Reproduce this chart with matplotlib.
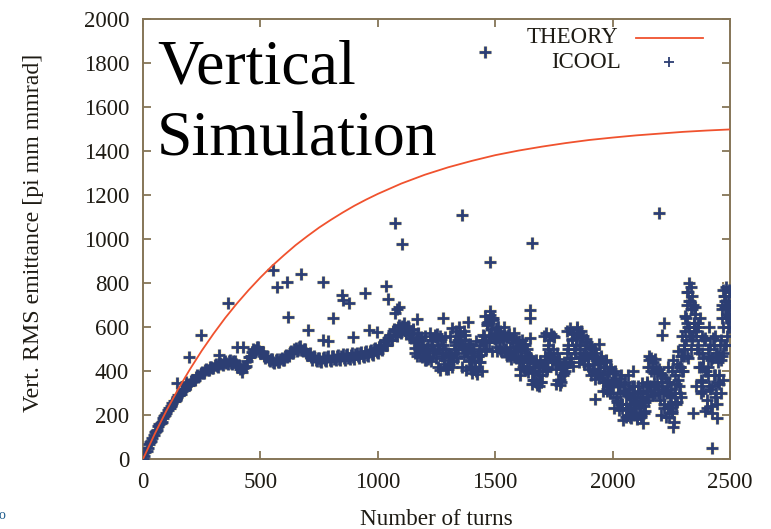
import matplotlib
matplotlib.use("Agg")
import matplotlib.pyplot as plt
from matplotlib.lines import Line2D

# ---------------- data ----------------
theory_turns = [0, 50, 100, 150, 200, 250, 300, 350, 400, 450, 500, 550, 600, 650,
                700, 750, 800, 850, 900, 950, 1000, 1100, 1200, 1300, 1400, 1500,
                1600, 1700, 1800, 1900, 2000, 2100, 2200, 2300, 2400, 2500]
theory_values = [0, 114, 220, 318, 408, 492, 569, 641, 707, 768, 825, 878, 926, 972,
                 1013, 1052, 1087, 1120, 1151, 1179, 1205, 1252, 1292, 1326, 1355, 1381,
                 1402, 1420, 1436, 1450, 1461, 1471, 1479, 1487, 1493, 1498]

# ICOOL samples on even decades (0, 10, ... 2500)
icool_turns_a = list(range(0, 2501, 10))
icool_values_a = [
    2, 30, 48, 78, 96, 122, 134, 158, 170, 196,
    208, 232, 242, 264, 270, 292, 296, 316, 320, 340,
    342, 360, 360, 380, 376, 394, 392, 410, 404, 420,
    412, 430, 420, 438, 428, 445, 432, 450, 434, 444,
    420, 426, 396, 420, 424, 462, 468, 500, 494, 508,
    482, 486, 458, 466, 444, 456, 438, 454, 440, 460,
    450, 474, 466, 492, 482, 506, 494, 512, 490, 500,
    472, 480, 452, 466, 444, 460, 442, 462, 444, 466,
    446, 470, 448, 474, 450, 476, 452, 478, 454, 480,
    456, 484, 460, 488, 464, 492, 466, 496, 472, 506,
    480, 520, 496, 540, 516, 565, 540, 590, 560, 608,
    572, 620, 570, 605, 550, 585, 505, 545, 470, 510,
    450, 505, 465, 540, 495, 570, 500, 545, 450, 480,
    410, 470, 445, 530, 500, 575, 520, 565, 480, 510,
    420, 465, 400, 490, 475, 565, 530, 625, 560, 630,
    545, 600, 500, 560, 485, 555, 480, 545, 465, 540,
    450, 500, 420, 480, 395, 455, 360, 420, 345, 430,
    380, 470, 420, 540, 460, 555, 410, 440, 350, 420,
    420, 520, 460, 575, 480, 590, 470, 560, 450, 530,
    410, 510, 400, 480, 370, 470, 350, 450, 330, 420,
    300, 400, 270, 370, 230, 340, 200, 320, 220, 330,
    210, 310, 190, 300, 260, 420, 310, 440, 300, 400,
    270, 380, 230, 350, 190, 320, 170, 340, 360, 470,
    400, 580, 460, 720, 540, 660, 500, 480, 350, 540,
    270, 470, 240, 520, 300, 440, 540, 360, 720, 600,
    760,
]

# ICOOL samples in between (5, 15, ... 2495)
icool_turns_b = list(range(5, 2500, 10))
icool_values_b = [
    14, 36, 66, 84, 110, 126, 150, 164, 188, 200,
    222, 234, 256, 264, 284, 290, 310, 314, 334, 338,
    354, 358, 374, 374, 390, 390, 404, 404, 416, 414,
    426, 422, 434, 430, 442, 436, 446, 438, 446, 430,
    426, 408, 412, 416, 444, 462, 488, 494, 508, 492,
    488, 470, 466, 450, 454, 440, 452, 442, 456, 450,
    468, 464, 486, 480, 500, 492, 510, 496, 502, 480,
    478, 462, 464, 450, 460, 446, 460, 448, 462, 452,
    466, 454, 468, 456, 470, 458, 472, 460, 474, 462,
    478, 466, 482, 468, 486, 472, 490, 478, 498, 486,
    510, 500, 530, 516, 552, 540, 580, 562, 600, 578,
    605, 585, 600, 565, 575, 530, 540, 495, 515, 470,
    500, 455, 520, 480, 555, 515, 560, 480, 500, 420,
    470, 420, 500, 480, 560, 520, 580, 500, 525, 450,
    480, 410, 470, 440, 540, 500, 610, 560, 640, 550,
    530, 575, 490, 550, 500, 565, 470, 530, 470, 510,
    520, 440, 470, 410, 470, 390, 440, 350, 400, 350,
    430, 400, 500, 470, 560, 440, 480, 360, 410, 390,
    480, 440, 540, 500, 550, 520, 580, 480, 530, 460,
    480, 430, 460, 390, 440, 380, 420, 360, 400, 350,
    360, 280, 330, 250, 310, 230, 290, 250, 300, 250,
    280, 230, 280, 240, 350, 330, 400, 340, 420, 320,
    350, 300, 310, 240, 290, 210, 300, 260, 420, 400,
    500, 620, 560, 680, 600, 560, 600, 420, 460, 400,
    420, 320, 460, 380, 480, 340, 470, 520, 640, 700,
]

# extra ICOOL samples in the noisy second half (1152, 1157, ... 2497)
icool_turns_c = list(range(1152, 2500, 5))
icool_values_c = [
    590, 480, 540, 470, 575, 500, 555, 465, 520, 495,
    560, 450, 520, 470, 575, 445, 540, 490, 565, 460,
    545, 420, 500, 405, 470, 520, 430, 555, 410, 480,
    430, 560, 470, 595, 445, 520, 580, 460, 540, 600,
    555, 420, 510, 470, 540, 405, 490, 445, 525, 410,
    390, 500, 420, 535, 385, 470, 440, 520, 400, 530,
    560, 650, 500, 620, 530, 655, 590, 490, 640, 570,
    595, 490, 560, 510, 580, 485, 540, 600, 500, 555,
    470, 570, 510, 455, 545, 490, 575, 460, 530, 500,
    535, 410, 490, 440, 525, 405, 470, 500, 420, 460,
    455, 340, 420, 360, 450, 335, 400, 380, 445, 350,
    420, 560, 450, 575, 410, 520, 480, 570, 440, 500,
    465, 340, 430, 360, 455, 335, 410, 380, 440, 400,
    430, 580, 500, 595, 460, 545, 425, 570, 520, 600,
    575, 440, 520, 460, 560, 430, 500, 545, 470, 425,
    520, 380, 470, 410, 500, 365, 450, 430, 525, 390,
    460, 310, 420, 350, 440, 320, 390, 300, 410, 340,
    390, 230, 350, 260, 330, 225, 300, 380, 250, 310,
    350, 190, 300, 230, 280, 185, 330, 250, 200, 270,
    190, 330, 240, 300, 200, 345, 260, 220, 310, 280,
    270, 450, 330, 420, 290, 390, 455, 350, 300, 410,
    390, 200, 330, 250, 370, 190, 300, 230, 350, 280,
    220, 450, 300, 380, 250, 490, 330, 420, 280, 470,
    470, 650, 540, 760, 600, 720, 500, 680, 560, 620,
    600, 330, 520, 420, 640, 360, 480, 310, 550, 400,
    230, 500, 330, 450, 210, 550, 380, 280, 480, 350,
    380, 520, 450, 680, 600, 740, 520, 700, 640, 770,
]

# scattered ICOOL points away from the main band
extra_turns = [146, 182, 196, 247, 324, 361, 402, 427, 555, 569, 612, 616, 673, 701,
               768, 789, 765, 808, 846, 850, 879, 945, 1034, 1045, 1073, 1082, 1092,
               1073, 1102, 896, 964, 995, 1166, 1279, 1359, 1383, 1457, 1477, 1478,
               1606, 1648, 1648, 1648, 1656, 1615, 1625, 1685, 1925, 1975, 1990,
               2046, 2055, 2065, 2075, 2085, 2095, 2105, 2115, 2128, 2135, 2145, 2155,
               2165, 2198, 2209, 2220, 2235, 2245, 2255, 2256, 2265, 2275, 2285, 2295,
               2305, 2312, 2315, 2318, 2322, 2325, 2327, 2332, 2335, 2337, 2342, 2344,
               2347, 2352, 2357, 2362, 2375, 2380, 2385, 2395, 2405, 2410, 2415, 2422,
               2425, 2435, 2443, 2445, 2455, 2462, 2465, 2468, 2470, 2472, 2476, 2478,
               2480, 2484, 2486, 2488, 2492, 2494, 2496]
extra_values = [344, 351, 465, 564, 473, 708, 508, 508, 859, 783, 806, 644, 841, 586,
                541, 536, 806, 642, 745, 723, 711, 756, 786, 726, 662, 680, 689,
                1074, 976, 556, 586, 576, 635, 639, 1109, 624, 1850, 674, 894,
                382, 677, 639, 548, 981, 540, 520, 330, 271, 310, 300,
                177, 250, 380, 190, 400, 260, 180, 250, 162, 210, 340, 470,
                460, 1118, 564, 617, 420, 230, 400, 147, 260, 430, 300, 560,
                520, 640, 470, 700, 760, 600, 800, 780, 560, 740, 700, 208,
                620, 690, 580, 620, 300, 560, 420, 220, 380, 600, 520, 48,
                330, 560, 185, 250, 470, 300, 640, 700, 480, 770, 740, 520,
                690, 780, 560, 660, 720, 600, 650]

x_ticks = [0, 500, 1000, 1500, 2000, 2500]
y_ticks = [0, 200, 400, 600, 800, 1000, 1200, 1400, 1600, 1800, 2000]

# ---------------- style ----------------
plt.rcParams['font.family'] = ['Liberation Serif', 'DejaVu Serif']
frame_col = '#857557'
text_col = '#1e1b14'
navy = '#2c3e73'
red = '#f0522e'

fig = plt.figure(figsize=(7.71, 5.29), dpi=100)
ax = fig.add_axes([143 / 771, 70 / 529, 587 / 771, 440 / 529])

all_t = icool_turns_a + icool_turns_b + icool_turns_c + extra_turns
all_v = icool_values_a + icool_values_b + icool_values_c + extra_values

# faint cream halo behind markers (as in the reference rendering)
ax.plot(all_t, all_v, linestyle='none', marker='+', ms=9, mew=3.6,
        color='#fdf4d2', zorder=2)
ax.plot(all_t, all_v, linestyle='none', marker='+', ms=8.5, mew=2.0,
        color=navy, zorder=3)
ax.plot(theory_turns, theory_values, color=red, lw=1.3, zorder=4)

ax.set_xlim(0, 2500)
ax.set_ylim(0, 2000)
ax.set_xticks(x_ticks)
ax.set_yticks(y_ticks)
ax.tick_params(direction='in', length=6, width=1.3, colors=frame_col,
               labelcolor=text_col, labelsize=16.5, top=True, right=True)
ax.tick_params(axis='y', pad=10)
ax.tick_params(axis='x', pad=9)
for s in ax.spines.values():
    s.set_color(frame_col)
    s.set_linewidth(1.4)

ax.set_xlabel('Number of turns', fontsize=16.7, color=text_col, labelpad=12)
ax.set_ylabel('Vert. RMS emittance [pi mm mmrad]', fontsize=17.2,
              color=text_col)
ax.yaxis.set_label_coords(-0.168, 0.513)

# title text inside the plot
ax.text(0.024, 0.8545, 'Vertical', transform=ax.transAxes, fontsize=46,
        color='black', va='baseline', ha='left', zorder=6)
ax.text(0.024, 0.693, 'Simulation', transform=ax.transAxes, fontsize=46,
        color='black', va='baseline', ha='left', zorder=6)

# legend (gnuplot style: label right-aligned, sample to the right)
ax.text(0.809, 0.957, 'THEORY', transform=ax.transAxes, fontsize=16.5,
        color=text_col, ha='right', va='center')
ax.text(0.815, 0.902, 'ICOOL', transform=ax.transAxes, fontsize=16.5,
        color=text_col, ha='right', va='center')
ax.add_line(Line2D([0.840, 0.954], [0.957, 0.957], transform=ax.transAxes,
                   color=red, lw=1.3))
ax.add_line(Line2D([0.896], [0.902], transform=ax.transAxes, linestyle='none',
                   marker='+', ms=7.5, mew=1.3, color=navy))

fig.text(0.003, 0.014, 'o', color='#1d5b8c', fontsize=10, ha='center', va='bottom')

fig.savefig('out.png', dpi=100)
